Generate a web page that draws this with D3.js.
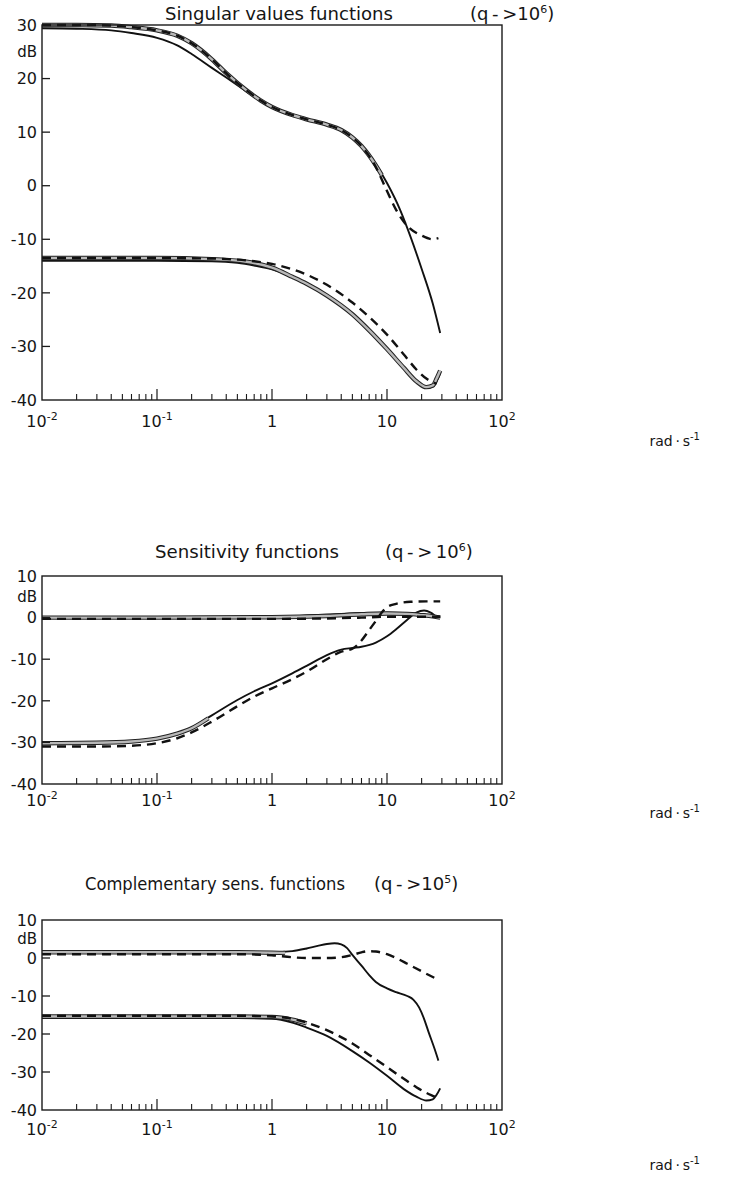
<!DOCTYPE html>
<html><head><meta charset="utf-8">
<script src="https://cdn.jsdelivr.net/npm/d3@7"></script>
<style>
body{margin:0;background:#fff}
svg{display:block}
text{font-family:"DejaVu Sans",sans-serif;fill:#151515}
</style>
</head><body>
<svg id="c" width="732" height="1183"></svg>
<script>
// ---------- data (frequency rad/s, gain dB) ----------
const xDecades = [0.01, 0.1, 1, 10, 100];
const xDecadeLabels = [["10","-2"],["10","-1"],["1",""],["10",""],["10","2"]];
const svYTicks = [30, 20, 10, 0, -10, -20, -30, -40];
const sensYTicks = [10, 0, -10, -20, -30, -40];

// Singular values functions
const svUpperSolid = [[0.01,29.4],[0.02,29.3],[0.04,29.0],[0.06,28.5],[0.1,27.6],[0.15,26.2],[0.2,24.6],[0.3,22.0],[0.4,20.2],[0.6,17.6],[0.8,15.8],[1,14.6],[1.5,13.2],[2,12.4],[3,11.4],[4,10.4],[5,9.0],[6,7.4],[8,4.0],[10,0.5],[13,-4.5],[16,-9.5],[20,-15.5],[25,-22],[29,-27.5]];
const svUpperDashed = [[0.01,30],[0.02,30],[0.04,29.9],[0.06,29.6],[0.1,29.0],[0.15,28.0],[0.2,26.6],[0.3,23.6],[0.4,21.0],[0.6,17.8],[0.8,15.9],[1,14.7],[1.5,13.2],[2,12.4],[3,11.4],[4,10.4],[5,9.0],[6,7.4],[8,3.5],[10,-1],[12,-4.5],[15,-7.5],[20,-9.3],[25,-10],[28,-9.8]];
const svUpperGray = [[0.01,30],[0.02,30],[0.04,29.9],[0.06,29.6],[0.1,29.0],[0.15,28.0],[0.2,26.6],[0.3,23.6],[0.4,21.0],[0.6,17.8],[0.8,15.9],[1,14.7],[1.5,13.2],[2,12.4],[3,11.4],[4,10.4],[5,9.0],[6,7.4],[8,3.8],[9,2]];
const svLowerSolid = [[0.01,-14],[0.1,-14],[0.3,-14.1],[0.5,-14.4],[0.7,-14.9],[1,-15.6],[1.5,-17],[2,-18.3],[3,-20.5],[5,-24],[7,-27],[10,-30.5],[14,-34],[18,-36.5],[22,-37.6],[25,-37.5],[27,-36.5],[29,-35]];
const svLowerDashed = [[0.01,-13.5],[0.1,-13.5],[0.3,-13.6],[0.5,-13.8],[0.7,-14.1],[1,-14.6],[1.5,-15.6],[2,-16.6],[3,-18.5],[5,-21.8],[7,-24.5],[10,-27.8],[14,-31.5],[18,-34.3],[22,-36],[27,-37]];
const svLowerGray = [[0.01,-13.5],[0.1,-13.5],[0.3,-13.7],[0.6,-14.2],[1,-15.3],[1.5,-17],[2,-18.3],[3,-20.5],[5,-24],[7,-27],[10,-30.5],[14,-34],[18,-36.5],[22,-37.6],[25,-37.3],[27,-36],[29,-34.5]];

// Sensitivity functions
const sUpperSolid = [[0.01,0],[0.1,0],[1,0.2],[2,0.5],[4,0.9],[6,1.1],[10,1.2],[14,1.1],[20,0.8],[25,0.4],[29,0.2]];
const sUpperDashed = [[0.01,-0.3],[0.1,-0.3],[1,-0.3],[3,-0.2],[6,0],[10,0.2],[20,0.2],[29,0.2]];
const sUpperGray = [[0.01,0],[0.1,0],[1,0.1],[3,0.4],[6,0.8],[10,1],[15,0.9],[20,0.6],[25,0.3],[29,0]];
const sLowerSolid = [[0.01,-30],[0.03,-30],[0.06,-29.7],[0.1,-29],[0.15,-27.8],[0.2,-26.5],[0.3,-23.5],[0.5,-19.8],[0.7,-17.7],[1,-15.8],[1.5,-13.4],[2,-11.6],[3,-9],[4,-7.7],[5,-7.3],[6,-7],[8,-6],[10,-4.5],[12,-2.8],[15,-0.5],[18,1.2],[21,1.7],[24,1.2],[27,0.2],[29,-0.2]];
const sLowerDashed = [[0.01,-31],[0.03,-31],[0.06,-30.8],[0.1,-30.2],[0.15,-29],[0.2,-27.6],[0.3,-25],[0.5,-21.3],[0.7,-19],[1,-17],[1.5,-14.8],[2,-13],[3,-10],[4,-8.2],[5,-7.5],[6,-5.5],[7,-3],[8,-0.8],[9,1.2],[10,2.5],[12,3.3],[16,3.8],[22,3.9],[29,3.9]];
const sLowerGray = [[0.01,-30.2],[0.03,-30.1],[0.06,-29.8],[0.1,-29.1],[0.15,-27.9],[0.2,-26.6],[0.28,-24.2]];

// Complementary sensitivity functions
const cUpperSolid = [[0.01,1.6],[0.1,1.6],[0.5,1.5],[1,1.5],[1.5,1.8],[2,2.5],[2.5,3.2],[3,3.7],[3.5,3.9],[4,3.6],[4.5,2.6],[5,0.8],[6,-2],[7,-4.5],[8,-6.3],[10,-8],[12,-9],[15,-10],[17,-11],[19,-13],[21,-16],[23,-19.5],[26,-24],[28,-27]];
const cUpperDashed = [[0.01,1],[0.1,1],[0.5,1],[1,0.7],[1.5,0.2],[2,0],[3,0],[4,0.2],[5,0.8],[6,1.5],[7,1.8],[8,1.7],[10,1],[12,0],[15,-1.5],[20,-3.5],[25,-5],[28,-5.7]];
const cUpperGray = [[0.01,1.5],[0.1,1.5],[0.5,1.5],[1,1.4],[1.3,1.3]];
const cLowerSolid = [[0.01,-15.8],[0.1,-15.8],[0.5,-15.8],[1,-16],[1.5,-17],[2,-18.3],[3,-20.5],[5,-24.5],[7,-27.5],[10,-31],[14,-34.5],[18,-36.5],[22,-37.5],[25,-37.2],[27,-36],[29,-34.3]];
const cLowerDashed = [[0.01,-15.2],[0.1,-15.2],[0.5,-15.2],[1,-15.4],[1.5,-16],[2,-17],[3,-19],[5,-22.5],[7,-25.5],[10,-28.7],[14,-31.8],[18,-34],[22,-35.5],[26,-36.5],[29,-37.2]];
const cLowerGray = [[0.01,-15.4],[0.1,-15.4],[0.5,-15.4],[1,-15.5],[1.5,-16.2],[2,-17.2]];

// ---------- layout ----------
const panels = [
  {top:25, bottom:400, yTicks:svYTicks, dBAt:25,
   title:"Singular values functions", titleX:165, titleW:228, qX:470, qExp:"6", qText:"(q\u2009-\u2009>10", titleY:20,
   radY:446, xLabY:427,
   solid:[svUpperSolid, svLowerSolid], gray:[svUpperGray, svLowerGray], dashed:[svUpperDashed, svLowerDashed]},
  {top:576, bottom:784, yTicks:sensYTicks, dBAt:5,
   title:"Sensitivity functions", titleX:155, titleW:184, qX:385, qExp:"6", qText:"(q\u2009-\u2009>\u200910", titleY:558,
   radY:818, xLabY:806,
   solid:[sUpperSolid, sLowerSolid], gray:[sUpperGray, sLowerGray], dashed:[sUpperDashed, sLowerDashed]},
  {top:920, bottom:1110, yTicks:sensYTicks, dBAt:5,
   title:"Complementary sens. functions", titleX:85, titleW:260, qX:374, qExp:"5", qText:"(q\u2009-\u2009>10", titleY:890,
   radY:1170, xLabY:1135,
   solid:[cUpperSolid, cLowerSolid], gray:[cUpperGray, cLowerGray], dashed:[cUpperDashed, cLowerDashed]}
];

const svg = d3.select("#c");
const x = d3.scaleLog().domain([0.01, 100]).range([42, 502]);

panels.forEach(p => {
  const yDom = d3.extent(p.yTicks);
  const y = d3.scaleLinear().domain(yDom).range([p.bottom, p.top]);
  const g = svg.append("g");
  const line = d3.line().x(d => x(d[0])).y(d => y(d[1])).curve(d3.curveMonotoneX);

  // curves
  p.solid.forEach(s => g.append("path").attr("d", line(s)).attr("fill","none")
     .attr("stroke","#111").attr("stroke-width",1.9));
  p.gray.forEach(s => {
    g.append("path").attr("d", line(s)).attr("fill","none").attr("stroke","#222").attr("stroke-width",4.4);
    g.append("path").attr("d", line(s)).attr("fill","none").attr("stroke","#b8b8b8").attr("stroke-width",2.4);
  });
  p.dashed.forEach(s => g.append("path").attr("d", line(s)).attr("fill","none")
     .attr("stroke","#111").attr("stroke-width",2.4).attr("stroke-dasharray","9,6"));

  // frame
  g.append("rect").attr("x", x(0.01)).attr("y", p.top).attr("width", x(100)-x(0.01))
    .attr("height", p.bottom-p.top).attr("fill","none").attr("stroke","#1a1a1a").attr("stroke-width",1.4);

  // y ticks and labels
  p.yTicks.forEach(t => {
    if (t !== yDom[0] && t !== yDom[1]) {
      g.append("line").attr("x1", x(0.01)).attr("x2", x(0.01)+8).attr("y1", y(t)).attr("y2", y(t))
        .attr("stroke","#1a1a1a").attr("stroke-width",1.3);
    }
    g.append("text").attr("x", 37).attr("y", y(t)).attr("dy","0.36em").attr("text-anchor","end")
      .attr("font-size",16).text(t);
  });
  g.append("text").attr("x", 37).attr("y", y(p.dBAt)).attr("dy","0.36em").attr("text-anchor","end")
    .attr("font-size",15).text("dB");

  // x minor ticks
  const minors = [];
  for (let i = 0; i < xDecades.length-1; i++) for (let m = 2; m <= 9; m++) minors.push(xDecades[i]*m);
  minors.forEach(v => g.append("line").attr("x1", x(v)).attr("x2", x(v)).attr("y1", p.bottom).attr("y2", p.bottom-6)
      .attr("stroke","#1a1a1a").attr("stroke-width",1.1));
  xDecades.slice(1,-1).forEach(v => g.append("line").attr("x1", x(v)).attr("x2", x(v)).attr("y1", p.bottom).attr("y2", p.bottom-11)
      .attr("stroke","#1a1a1a").attr("stroke-width",1.2));

  // x labels
  xDecades.forEach((v,i) => {
    const [b, e] = xDecadeLabels[i];
    const t = g.append("text").attr("x", x(v)).attr("y", p.xLabY).attr("text-anchor","middle").attr("font-size",16);
    t.append("tspan").text(b);
    if (e) t.append("tspan").attr("dy",-7).attr("font-size",11).text(e);
  });
  const r = g.append("text").attr("x", 700).attr("y", p.radY).attr("text-anchor","end").attr("font-size",14);
  r.append("tspan").text("rad\u2009\u00b7\u2009s");
  r.append("tspan").attr("dy",-6).attr("font-size",10).text("-1");

  // title
  g.append("text").attr("x", p.titleX).attr("y", p.titleY).attr("font-size",18)
    .attr("textLength", p.titleW).attr("lengthAdjust","spacingAndGlyphs").text(p.title);
  const q = g.append("text").attr("x", p.qX).attr("y", p.titleY).attr("font-size",18);
  q.append("tspan").text(p.qText);
  q.append("tspan").attr("dy",-7).attr("font-size",11).text(p.qExp);
  q.append("tspan").attr("dy",7).text(")");
});
</script>
</body></html>
